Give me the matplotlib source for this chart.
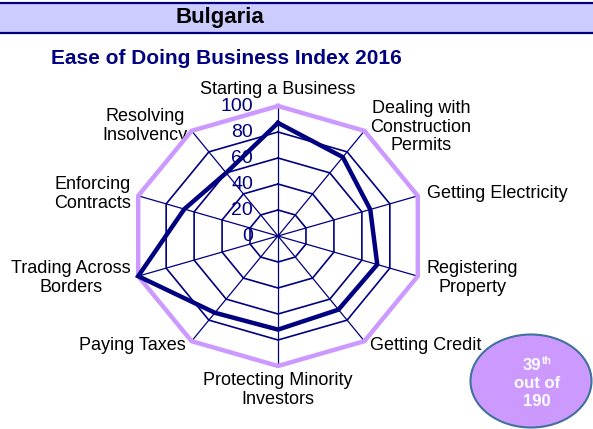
import numpy as np
import matplotlib
matplotlib.use("Agg")
import matplotlib.pyplot as plt
from matplotlib.patches import Rectangle, Ellipse

plt.rcParams['font.family'] = ['Liberation Sans', 'DejaVu Sans']

# data
country = "Bulgaria"
title = "Ease of Doing Business Index 2016"
categories = ["Starting a Business", "Dealing with\nConstruction\nPermits",
              "Getting Electricity", "Registering\nProperty", "Getting Credit",
              "Protecting Minority\nInvestors", "Paying Taxes",
              "Trading Across\nBorders", "Enforcing\nContracts",
              "Resolving\nInsolvency"]
scores = [87, 75, 66, 71, 70, 72, 73, 100, 67, 60]
ring_levels = [0, 20, 40, 60, 80, 100]
rank = "39"
total = "190"

# label centres in pixels (layout only)
label_pos = [(278, 90), (421, 127), (497, 194), (472, 278), (426, 346),
             (278, 390), (132, 346), (71, 278), (93, 194), (145, 126)]

navy = '#000080'
lavender = '#CC99FF'

W, H = 593, 429
fig = plt.figure(figsize=(W / 100, H / 100), dpi=100)

# background overlay in pixel units
bg = fig.add_axes([0, 0, 1, 1])
bg.set_xlim(0, W)
bg.set_ylim(H, 0)
bg.axis('off')

bg.add_patch(Rectangle((0, 3), W, 30, facecolor='#CCCCFF', edgecolor='none'))
bg.plot([0, W], [3, 3], color=navy, lw=1.6)
bg.plot([0, W], [33, 33], color=navy, lw=1.6)
bg.text(220, 18, country, ha='center', va='center', fontsize=16,
        fontweight='bold', color='black')
bg.text(226, 58, title, ha='center', va='center', fontsize=15,
        fontweight='bold', color=navy)

# radar axes: centre at (278, 236) px, 100 -> 147 px across, 130 px up
cx, cy, sx, sy = 278, 236, 147, 130
lim = 110
ax = fig.add_axes([(cx - sx * lim / 100) / W, (H - cy - sy * lim / 100) / H,
                   2 * sx * lim / 100 / W, 2 * sy * lim / 100 / H])
ax.set_xlim(-lim, lim)
ax.set_ylim(-lim, lim)
ax.axis('off')
ax.patch.set_alpha(0)

n = len(categories)
ang = np.arange(n) * 2 * np.pi / n
ang_c = np.append(ang, ang[0])

for lv in ring_levels[1:-1]:
    ax.plot(lv * np.sin(ang_c), lv * np.cos(ang_c), color=navy, lw=1.2)
for a in ang:
    ax.plot([0, 100 * np.sin(a)], [0, 100 * np.cos(a)], color=navy, lw=0.9)
ax.plot(100 * np.sin(ang_c), 100 * np.cos(ang_c), color=lavender, lw=3.2,
        solid_joinstyle='miter')

sc = np.append(scores, scores[0])
ax.plot(sc * np.sin(ang_c), sc * np.cos(ang_c), color=navy, lw=3.2,
        solid_joinstyle='miter')

for lv in ring_levels:
    ax.text(-17, lv, str(lv), ha='right', va='center', fontsize=14, color=navy)

# category labels
for cat, (px, py) in zip(categories, label_pos):
    lines = cat.split('\n')
    k = len(lines)
    for i, line in enumerate(lines):
        bg.text(px, py + (i - (k - 1) / 2) * 18.8, line, ha='center',
                va='center', fontsize=13, color='black')

# rank badge
bg.add_patch(Ellipse((531, 381), 121, 93, facecolor=lavender,
                     edgecolor='#41719C', lw=1.5))
bg.text(541, 366, rank, ha='right', va='center', fontsize=12,
        fontweight='bold', color='white')
bg.text(542, 361, "th", ha='left', va='center', fontsize=7.5,
        fontweight='bold', color='white')
bg.text(537, 384, "out of", ha='center', va='center', fontsize=12,
        fontweight='bold', color='white')
bg.text(537, 402, total, ha='center', va='center', fontsize=12,
        fontweight='bold', color='white')

fig.savefig('out.png', dpi=100)
